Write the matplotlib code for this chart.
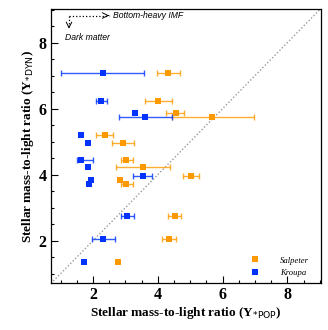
import numpy as np
import matplotlib
matplotlib.use("Agg")
import matplotlib.pyplot as plt
from matplotlib.ticker import MultipleLocator
from matplotlib.lines import Line2D

C_SAL = "#FF9900"
C_KRO = "#0033FF"

# Kroupa IMF: (Y_pop, Y_dyn) with x-error ranges (lo, hi); nan = no bar
kro_x = [2.30, 2.26, 3.30, 3.62, 1.62, 1.84, 1.64, 1.84, 3.55, 1.95, 1.89, 3.06, 2.32, 1.72]
kro_y = [7.09, 6.24, 5.88, 5.74, 5.21, 4.97, 4.43, 4.24, 3.97, 3.84, 3.72, 2.76, 2.04, 1.35]
kro_lo = [1.00, 2.08, np.nan, 2.80, np.nan, np.nan, 1.51, np.nan, 3.24, np.nan, np.nan, 2.88, 1.98, np.nan]
kro_hi = [3.59, 2.43, np.nan, 4.43, np.nan, np.nan, 1.99, np.nan, 3.82, np.nan, np.nan, 3.27, 2.67, np.nan]

# Salpeter IMF
sal_x = [4.32, 4.02, 4.55, 5.67, 2.36, 2.94, 3.03, 3.54, 5.01, 2.84, 3.03, 4.52, 4.35, 2.77]
sal_y = [7.09, 6.24, 5.88, 5.74, 5.21, 4.97, 4.43, 4.24, 3.97, 3.84, 3.72, 2.76, 2.04, 1.35]
sal_lo = [3.98, 3.60, 4.24, 4.44, 2.10, 2.60, 2.85, 2.70, 4.78, np.nan, 2.86, 4.30, 4.13, np.nan]
sal_hi = [4.68, 4.43, 4.81, 6.98, 2.62, 3.26, 3.24, 4.37, 5.26, np.nan, 3.24, 4.73, 4.57, np.nan]

plt.rcParams.update({
    "font.family": "serif",
    "font.serif": ["Liberation Serif", "DejaVu Serif"],
    "mathtext.fontset": "dejavusans",
})

fig = plt.figure(figsize=(3.28, 3.30), dpi=100)
ax = fig.add_axes([0.155, 0.1415, 0.823, 0.8315])

lim = (0.7, 9.03)
ax.plot(lim, lim, ls=(0, (1, 1.5)), color="#999999", lw=1.0, zorder=1)


def draw(x, y, lo, hi, color):
    x = np.array(x); y = np.array(y)
    lo = np.array(lo); hi = np.array(hi)
    m = ~np.isnan(lo)
    err = np.vstack([x[m] - lo[m], hi[m] - x[m]])
    ax.errorbar(x[m], y[m], xerr=err, fmt="none", ecolor=color, elinewidth=1.0,
                capsize=2.5, capthick=1.0, alpha=0.8, zorder=2)
    ax.plot(x, y, "s", color=color, ms=4.8, mew=0, zorder=3)


draw(sal_x, sal_y, sal_lo, sal_hi, C_SAL)
draw(kro_x, kro_y, kro_lo, kro_hi, C_KRO)

ax.set_xlim(lim)
ax.set_ylim(0.71, 9.02)
ax.xaxis.set_major_locator(MultipleLocator(2))
ax.yaxis.set_major_locator(MultipleLocator(2))
ax.xaxis.set_minor_locator(MultipleLocator(0.5))
ax.yaxis.set_minor_locator(MultipleLocator(0.5))
ax.tick_params(which="both", direction="in", top=False, right=False,
               labelsize=11.5, width=0.8, pad=3)
ax.tick_params(which="major", length=5)
ax.tick_params(which="minor", length=2.5)
for lab in ax.get_xticklabels() + ax.get_yticklabels():
    lab.set_fontweight("bold")
for s in ax.spines.values():
    s.set_linewidth(0.9)

ax.set_xlabel(r"Stellar mass-to-light ratio (Υ$_{*\mathsf{POP}}$)",
              fontsize=9.5, fontweight="bold", labelpad=1)
ax.set_ylabel(r"Stellar mass-to-light ratio (Υ$_{*\mathsf{DYN}}$)",
              fontsize=9.5, fontweight="bold", labelpad=2)

# direction arrows (dotted shafts)
ax.plot([1.26, 2.5], [8.82, 8.82], ls=":", lw=0.9, color="black")
ax.plot([1.26, 1.26], [8.82, 8.5], ls=":", lw=0.9, color="black")
ax.annotate("", xy=(2.58, 8.82), xytext=(2.4, 8.82),
            arrowprops=dict(arrowstyle="->", lw=0.7, color="black"))
ax.annotate("", xy=(1.26, 8.42), xytext=(1.26, 8.58),
            arrowprops=dict(arrowstyle="->", lw=0.7, color="black"))
ax.text(2.62, 8.82, "Bottom-heavy IMF", fontsize=6.2, style="italic",
        family="Liberation Sans", va="center", ha="left")
ax.text(1.15, 8.15, "Dark matter", fontsize=6.2, style="italic",
        family="Liberation Sans", va="center", ha="left")

handles = [Line2D([0], [0], marker="s", color=C_SAL, ls="none", ms=4.8, mew=0),
           Line2D([0], [0], marker="s", color=C_KRO, ls="none", ms=4.8, mew=0)]
leg = ax.legend(handles, ["Salpeter", "Kroupa"], loc="lower right", frameon=False,
                prop={"family": "Liberation Serif", "style": "italic", "size": 6.2},
                handletextpad=2.0, labelspacing=0.55, borderaxespad=0.3,
                bbox_to_anchor=(0.98, 0.0))

fig.savefig("out.png", dpi=100)
